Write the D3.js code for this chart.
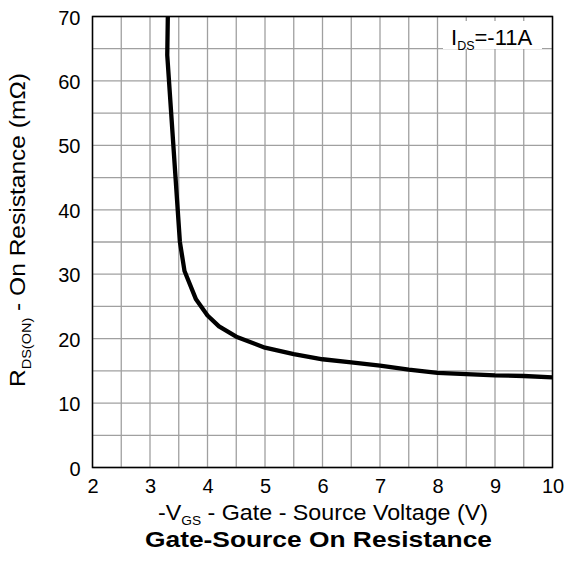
<!DOCTYPE html>
<html><head><meta charset="utf-8">
<script src="https://cdn.jsdelivr.net/npm/d3@7"></script>
<style>body{margin:0;background:#fff}svg{display:block;font-family:"Liberation Sans",Arial,sans-serif}</style>
</head><body>
<svg id="c" width="564" height="568"></svg>
<script>
const vgs = [3.31, 3.30, 3.52, 3.60, 3.80, 4.0, 4.2, 4.5, 5.0, 5.5, 6.0, 6.5, 7.0, 7.5, 8.0, 8.5, 9.0, 9.5, 10.0];
const rds = [70, 64, 35, 30.5, 26.1, 23.6, 21.9, 20.3, 18.6, 17.6, 16.8, 16.3, 15.8, 15.2, 14.7, 14.5, 14.3, 14.2, 14.0];
const xTicks = [2,3,4,5,6,7,8,9,10];
const yTicks = [0,10,20,30,40,50,60,70];
const xGrid = d3.range(2, 10.01, 0.5);
const yGrid = d3.range(0, 70.01, 5);

const L=92.5, R=552.5, T=16.5, B=467.5;
const svg = d3.select("#c");
const x = d3.scaleLinear().domain([2,10]).range([L,R]);
const y = d3.scaleLinear().domain([0,70]).range([B,T]);

const g = svg.append("g");
g.selectAll(".vg").data(xGrid).enter().append("line")
  .attr("x1",d=>x(d)).attr("x2",d=>x(d)).attr("y1",T).attr("y2",B)
  .attr("stroke","#a0a0a0").attr("stroke-width",1.3);
g.selectAll(".hg").data(yGrid).enter().append("line")
  .attr("y1",d=>y(d)).attr("y2",d=>y(d)).attr("x1",L).attr("x2",R)
  .attr("stroke","#a0a0a0").attr("stroke-width",1.3);

// label box
svg.append("rect").attr("x",443).attr("y",21).attr("width",99).attr("height",28).attr("fill","#fff");
const lab = svg.append("text").attr("x",451).attr("y",45).attr("font-size",22).attr("fill","#000");
lab.append("tspan").text("I");
lab.append("tspan").attr("font-size",12.5).attr("dy",5).text("DS");
lab.append("tspan").attr("dy",-5).text("=-11A");

// curve
const pts = vgs.map((v,i)=>[v,rds[i]]);
svg.append("path").datum(pts)
  .attr("d", d3.line().x(d=>x(d[0])).y(d=>y(d[1])).curve(d3.curveLinear))
  .attr("fill","none").attr("stroke","#000").attr("stroke-width",4.3).attr("stroke-linejoin","round");

// frame
svg.append("rect").attr("x",L).attr("y",T).attr("width",R-L).attr("height",B-T)
  .attr("fill","none").attr("stroke","#000").attr("stroke-width",1.5);

// axes tick labels
const xa = d3.axisBottom(x).tickValues(xTicks).tickSize(0).tickPadding(0).tickFormat(d3.format("d"));
const xg = svg.append("g").attr("transform",`translate(0,${B})`).call(xa);
xg.select(".domain").remove();
xg.selectAll("text").attr("font-size",20).attr("dy",0).attr("y",25).attr("fill","#000").attr("font-family","Liberation Sans, Arial, sans-serif");
const ya = d3.axisLeft(y).tickValues(yTicks).tickSize(0).tickPadding(0).tickFormat(d3.format("d"));
const yg = svg.append("g").attr("transform",`translate(${L-12},0)`).call(ya);
yg.select(".domain").remove();
yg.selectAll("text").attr("font-size",20).attr("dy","0.38em").attr("fill","#000").attr("font-family","Liberation Sans, Arial, sans-serif");

// x label
const xl = svg.append("text").attr("x",158).attr("y",520).attr("font-size",22)
  .attr("textLength",330).attr("lengthAdjust","spacingAndGlyphs");
xl.append("tspan").text("-V");
xl.append("tspan").attr("font-size",13).attr("dy",5).text("GS");
xl.append("tspan").attr("dy",-5).text(" - Gate - Source Voltage (V)");

// y label
const yl = svg.append("text").attr("transform","translate(25,387) rotate(-90)").attr("font-size",22)
  .attr("textLength",314).attr("lengthAdjust","spacingAndGlyphs");
yl.append("tspan").text("R");
yl.append("tspan").attr("font-size",13).attr("dy",6).text("DS(ON)");
yl.append("tspan").attr("dy",-6).text(" - On Resistance (mΩ)");

// title
svg.append("text").attr("x",145).attr("y",547).attr("font-size",22).attr("font-weight","bold")
  .attr("textLength",347).attr("lengthAdjust","spacingAndGlyphs").text("Gate-Source On Resistance");
</script>
</body></html>
